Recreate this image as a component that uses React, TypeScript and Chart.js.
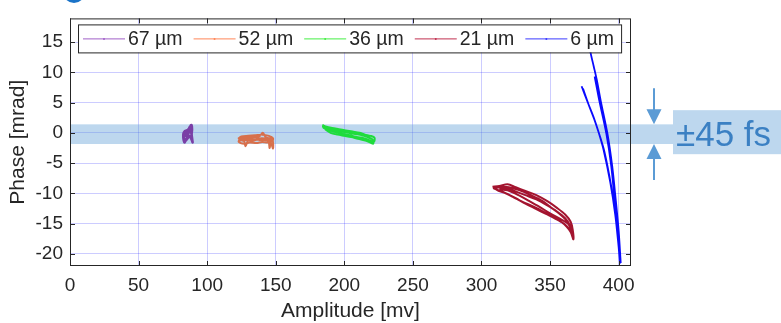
import React, { useEffect, useRef } from 'react';
import { Chart, registerables } from 'chart.js';
Chart.register(...registerables);

const FONT = '"Liberation Sans", Arial, Helvetica, sans-serif';
const TEXT = '#262626';

// axis ranges / ticks
const xRange = [0, 409];
const yRange = [-22, 18.9];
const xTickStep = 50;
const yTickStep = 5;

const seriesLabels = ['67 µm', '52 µm', '36 µm', '21 µm', '6 µm'];
const seriesColors = ['#7a3fa6', '#d8704c', '#1fdc3c', '#a3142f', '#0a0aff'];
const legendColors = ['#a060c8', '#ff8658', '#44ee44', '#c03050', '#3a3aff'];

// 67 µm
const amp67 = [87.5, 88.6, 89.0, 88.7, 89.3, 88.2, 86.4, 84.6, 83.4, 82.6, 83.8, 85.9, 87.6, 86.7, 84.5, 86.2, 88.1, 88.7, 87.3, 85.2, 83.0, 84.2, 87.0, 88.9, 89.4, 88.0, 85.5, 83.2, 84.8, 87.9];
const phase67 = [1.1, 1.3, 0.6, -0.3, -1.5, -0.9, -0.4, -1.1, -1.6, -0.2, 0.3, 0.5, 0.9, 0.1, -0.5, -0.1, 0.4, -0.2, 1.0, -0.3, -0.6, -1.3, -0.6, -1.0, -1.6, 0.2, 0.0, -0.4, 0.2, 0.7];

// 52 µm
const amp52 = [122.5, 125, 130, 135, 140, 145, 148, 147.5, 144, 140, 136, 131, 127, 123, 124, 128, 133, 138, 140.5, 143, 147, 146, 145.5, 144.5, 139, 134, 130, 128, 127, 125, 130, 136, 142, 147.5, 148, 146, 140, 133, 126, 123];
const phase52 = [-1.0, -0.6, -0.5, -0.4, -0.3, -0.5, -0.9, -1.4, -1.6, -1.5, -1.7, -1.6, -1.8, -1.5, -1.0, -0.8, -0.7, -0.6, 0.0, -0.8, -1.0, -1.9, -2.5, -1.3, -1.2, -1.1, -1.2, -2.2, -1.4, -1.2, -0.9, -0.8, -1.1, -1.2, -2.6, -1.5, -0.9, -1.3, -1.1, -1.4];

// 36 µm
const amp36 = [184, 187, 191, 196, 201, 206, 211, 215, 219, 222, 221.5, 218, 214, 209, 204, 199, 194, 189, 185, 184.5, 188, 193, 198, 203, 208, 213, 217, 220.5, 221, 216, 210, 205, 200, 195, 190, 186];
const phase36 = [1.3, 1.0, 0.8, 0.6, 0.4, 0.2, 0.0, -0.3, -0.5, -0.8, -1.5, -1.2, -0.9, -0.7, -0.4, -0.2, 0.1, 0.4, 0.8, 1.1, 0.7, 0.4, 0.2, 0.0, -0.2, -0.4, -0.7, -1.1, -1.8, -1.3, -1.0, -0.7, -0.5, -0.3, 0.0, 0.6];

// 21 µm
const amp21 = [308, 313, 319, 325, 332, 340, 348, 355, 361, 365, 366.5, 367, 365, 362, 358, 352, 345, 338, 330, 322, 315, 309,
  310, 317, 324, 332, 340, 348, 355, 361, 364.5, 366, 364, 360, 354, 347, 340, 332, 325, 318, 311,
  312, 320, 328, 336, 344, 351, 357, 362, 365.5, 363, 358, 350, 342, 335, 327, 319, 313];
const phase21 = [-8.9, -8.8, -8.5, -9.0, -9.6, -10.3, -11.3, -12.4, -13.5, -14.7, -16.0, -17.6, -16.4, -15.5, -14.7, -13.9, -13.0, -12.2, -11.4, -10.5, -9.7, -9.2,
  -9.0, -9.1, -9.6, -10.3, -11.0, -12.0, -13.0, -14.1, -15.3, -16.8, -15.9, -15.0, -14.2, -13.4, -12.6, -11.7, -10.8, -10.0, -9.4,
  -8.9, -9.0, -9.5, -10.3, -11.2, -12.4, -13.4, -14.5, -16.0, -15.0, -14.3, -13.3, -12.2, -11.3, -10.3, -9.5, -9.3];

// 6 µm (null = break between strands)
const amp6 = [373, 377.5, 381.7, 385.5, 389, 393.9, 397.5, 400, 401, null,
  382.5, 386, 391, 394.6, 397, 399.5, 401.2, null,
  377.5, 379.5, 381.8, 384, 387, 391.8, 395.3, 397.8, 400, 401.5, null,
  374, 378.2, 382.3, 386.1, 389.7, 394.4, 397.9, 400.3, 401.2];
const phase6 = [7.7, 5.0, 2.6, 0, -2.8, -8.2, -13.5, -18.9, -21.6, null,
  9.3, 5.2, -0.1, -5.5, -10.9, -16.2, -21.2, null,
  16.5, 13.3, 11, 8.8, 5.2, -0.1, -5.5, -10.9, -16.2, -21.5, null,
  7.3, 4.6, 2.2, -0.4, -3.2, -8.6, -13.9, -19.2, -21.3];

const ampSeries = [amp67, amp52, amp36, amp21, amp6];
const phaseSeries = [phase67, phase52, phase36, phase21, phase6];

// band annotation
const bandTop = 1.4;
const bandBottom = -1.85;
const bandLabel = '±45 fs';

const BAND_FILL = 'rgba(91,155,213,0.4)';
const BAND_SOLID = '#bdd7ee';
const ANNO_BLUE = '#5b9bd5';

const decor = {
  id: 'decor',
  beforeDatasetsDraw(chart: any) {
    const { ctx, chartArea, scales } = chart;
    const y1 = scales.y.getPixelForValue(bandTop);
    const y2 = scales.y.getPixelForValue(bandBottom);
    ctx.save();
    ctx.fillStyle = BAND_FILL;
    ctx.fillRect(chartArea.left, y1, chart.width - chartArea.left, y2 - y1);
    ctx.restore();
  },
  afterDraw(chart: any) {
    const { ctx, chartArea, scales } = chart;
    const { left, right, top, bottom } = chartArea;
    ctx.save();
    // frame
    ctx.strokeStyle = TEXT;
    ctx.lineWidth = 1;
    ctx.strokeRect(left + 0.5, top + 0.5, right - left - 1, bottom - top - 1);
    // inward ticks
    ctx.beginPath();
    for (let v = xRange[0]; v <= xRange[1]; v += xTickStep) {
      const px = Math.round(scales.x.getPixelForValue(v)) + 0.5;
      ctx.moveTo(px, bottom); ctx.lineTo(px, bottom - 5);
      ctx.moveTo(px, top); ctx.lineTo(px, top + 5);
    }
    for (let v = -20; v <= 15; v += yTickStep) {
      const py = Math.round(scales.y.getPixelForValue(v)) + 0.5;
      ctx.moveTo(left, py); ctx.lineTo(left + 5, py);
      ctx.moveTo(right, py); ctx.lineTo(right - 5, py);
    }
    ctx.stroke();

    // legend inside the plot
    ctx.font = `19.5px ${FONT}`;
    const widths = seriesLabels.map((l) => ctx.measureText(l).width);
    const lineLen = 42;
    const gap = 11;
    let total = 5 + 7;
    widths.forEach((w, i) => { total += lineLen + 3 + w + (i < widths.length - 1 ? gap : 0); });
    const L = left + 8, T = top + 6, H = 28;
    ctx.fillStyle = '#fff';
    ctx.fillRect(L, T, total, H);
    ctx.strokeStyle = TEXT;
    ctx.strokeRect(L + 0.5, T + 0.5, total, H);
    let x = L + 5;
    const cy = T + H / 2 + 0.5;
    seriesLabels.forEach((lab, i) => {
      ctx.strokeStyle = legendColors[i];
      ctx.lineWidth = 1;
      ctx.beginPath();
      ctx.moveTo(x, cy); ctx.lineTo(x + lineLen, cy);
      ctx.stroke();
      ctx.fillStyle = legendColors[i];
      ctx.beginPath();
      ctx.arc(x + lineLen / 2, cy, 1, 0, Math.PI * 2);
      ctx.fill();
      ctx.fillStyle = TEXT;
      ctx.textBaseline = 'middle';
      ctx.textAlign = 'left';
      ctx.fillText(lab, x + lineLen + 3, cy + 1);
      x += lineLen + 3 + widths[i] + gap;
    });

    // ±45 fs annotation
    const y1 = scales.y.getPixelForValue(bandTop);
    const y2 = scales.y.getPixelForValue(bandBottom);
    const mid = (y1 + y2) / 2;
    const ax = right + 23;
    ctx.strokeStyle = ANNO_BLUE;
    ctx.fillStyle = ANNO_BLUE;
    ctx.lineWidth = 2;
    ctx.beginPath();
    ctx.moveTo(ax, y1 - 36); ctx.lineTo(ax, y1 - 12);
    ctx.moveTo(ax, y2 + 12); ctx.lineTo(ax, y2 + 36);
    ctx.stroke();
    ctx.beginPath();
    ctx.moveTo(ax, y1); ctx.lineTo(ax - 7.5, y1 - 15); ctx.lineTo(ax + 7.5, y1 - 15); ctx.closePath();
    ctx.moveTo(ax, y2); ctx.lineTo(ax - 7.5, y2 + 15); ctx.lineTo(ax + 7.5, y2 + 15); ctx.closePath();
    ctx.fill();
    const bx = right + 42;
    ctx.fillStyle = BAND_SOLID;
    ctx.fillRect(bx, mid - 24, chart.width - bx, 44);
    ctx.fillStyle = '#3b80c3';
    ctx.font = `35px ${FONT}`;
    ctx.textBaseline = 'alphabetic';
    ctx.textAlign = 'left';
    ctx.fillText(bandLabel, bx + 3, mid + 11.5);
    ctx.restore();
  },
};

export default function App() {
  const ref = useRef<HTMLCanvasElement | null>(null);
  useEffect(() => {
    const canvas = ref.current;
    if (!canvas) return;
    const datasets = seriesLabels.map((label, i) => ({
      label,
      data: ampSeries[i].map((a, k) => ({ x: a, y: phaseSeries[i][k] })),
      borderColor: seriesColors[i],
      backgroundColor: seriesColors[i],
      borderWidth: i === 0 ? 2.5 : i === 4 ? 1.8 : 2,
      pointRadius: 0,
      tension: 0.3,
      spanGaps: false,
      fill: false,
    }));
    const chart = new Chart(canvas, {
      type: 'line',
      data: { datasets },
      plugins: [decor],
      options: {
        animation: false,
        responsive: false,
        devicePixelRatio: 1,
        layout: { padding: { left: 0, top: 12, right: 150, bottom: 0 } },
        plugins: { legend: { display: false }, tooltip: { enabled: false } },
        scales: {
          x: {
            type: 'linear',
            min: xRange[0],
            max: xRange[1],
            afterFit: (s: any) => { s.height = 57; },
            ticks: { stepSize: xTickStep, includeBounds: false, color: TEXT, font: { family: FONT, size: 19 }, padding: 8, maxRotation: 0 },
            grid: { color: 'rgba(0,0,255,0.2)', drawTicks: false },
            border: { display: false },
            title: { display: true, text: 'Amplitude [mv]', color: TEXT, font: { family: FONT, size: 21, lineHeight: 1 }, padding: { top: 0, bottom: 1 } },
          },
          y: {
            type: 'linear',
            min: yRange[0],
            max: yRange[1],
            afterFit: (s: any) => { s.width = 70; },
            ticks: { stepSize: yTickStep, includeBounds: false, color: TEXT, font: { family: FONT, size: 19 }, padding: 7 },
            grid: { color: 'rgba(0,0,255,0.2)', drawTicks: false },
            border: { display: false },
            title: { display: true, text: 'Phase [mrad]', color: TEXT, font: { family: FONT, size: 21, lineHeight: 1 }, padding: { top: 8, bottom: 0 } },
          },
        },
      },
    });
    return () => chart.destroy();
  }, []);
  return (
    <div style={{ position: 'fixed', left: 0, top: 0, width: 781, height: 323, background: '#fff', overflow: 'hidden' }}>
      <div style={{ position: 'absolute', left: 63, top: -19, width: 22, height: 22, borderRadius: '50%', background: '#1a73c8' }} />
      <canvas ref={ref} width={781} height={323} style={{ position: 'absolute', left: 0, top: 0 }} />
    </div>
  );
}
